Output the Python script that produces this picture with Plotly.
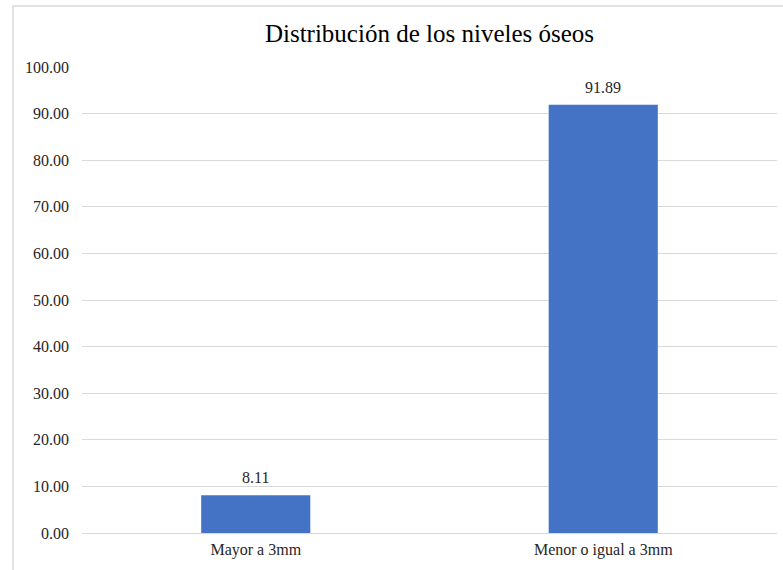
import plotly.graph_objects as go

categories = ["Mayor a 3mm", "Menor o igual a 3mm"]
values = [8.11, 91.89]
y_ticks = [0, 10, 20, 30, 40, 50, 60, 70, 80, 90, 100]
y_tick_labels = [f"{v:.2f}" for v in y_ticks]
title = "Distribución de los niveles óseos"

FONT = "Liberation Serif, Times New Roman, serif"

fig = go.Figure(
    go.Bar(
        x=categories,
        y=values,
        width=0.314,
        marker=dict(color="#4472C4", line=dict(width=0)),
        cliponaxis=False,
    )
)

for c, v in zip(categories, values):
    fig.add_annotation(
        x=c,
        y=v,
        text=f"{v:.2f}",
        showarrow=False,
        yanchor="bottom",
        yshift=7,
        font=dict(family=FONT, size=16, color="#262626"),
    )

fig.update_layout(
    width=783,
    height=570,
    margin=dict(l=82, r=6, t=67, b=37),
    paper_bgcolor="white",
    plot_bgcolor="white",
    showlegend=False,
    title=dict(
        text=title,
        x=0.5,
        xref="paper",
        xanchor="center",
        y=1 - 33 / 570,
        yanchor="middle",
        font=dict(family=FONT, size=25, color="#000000"),
    ),
    font=dict(family=FONT, size=16, color="#262626"),
)

fig.update_yaxes(
    range=[0, 100],
    tickvals=y_ticks,
    ticktext=y_tick_labels,
    showgrid=True,
    gridcolor="#d9d9d9",
    gridwidth=1,
    zeroline=True,
    zerolinecolor="#d9d9d9",
    zerolinewidth=1,
    showline=False,
    ticks="",
    ticklabelstandoff=12,
    tickfont=dict(family=FONT, size=16, color="#262626"),
)

fig.update_xaxes(
    showgrid=False,
    showline=False,
    ticks="",
    ticklabelstandoff=5,
    tickfont=dict(family=FONT, size=16, color="#262626"),
)

# chart-area border
fig.add_shape(
    type="rect",
    xref="paper",
    yref="paper",
    x0=(13 - 82) / 695,
    x1=(795 - 82) / 695,
    y0=(533 - 590) / 466,
    y1=(533 - 6) / 466,
    line=dict(color="#d9d9d9", width=1.5),
    fillcolor="rgba(0,0,0,0)",
    layer="below",
)

fig.write_html("out.html")
